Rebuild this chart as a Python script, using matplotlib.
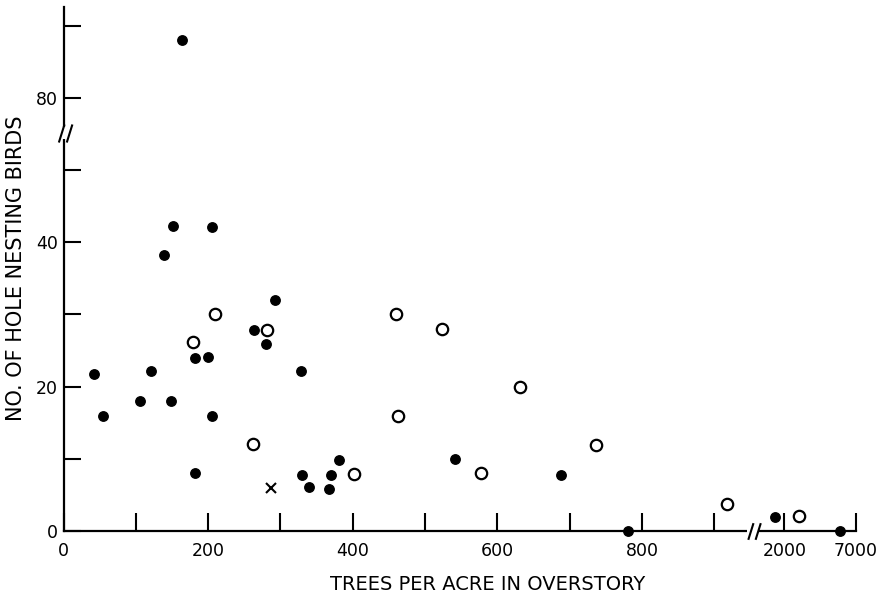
import numpy as np
import matplotlib
matplotlib.use("Agg")
import matplotlib.pyplot as plt
from matplotlib.path import Path
from matplotlib.ticker import FixedLocator, FixedFormatter

# trees per acre / number of hole nesting birds
filled_x = [164, 151, 206, 139, 292, 263, 280, 182, 200, 42, 121, 328, 106, 149,
            54, 206, 182, 330, 339, 370, 367, 381, 542, 688, 781, 1700, 5900]
filled_y = [88, 42.2, 42.1, 38.2, 32, 27.9, 25.9, 24, 24.1, 21.8, 22.1, 22.1, 18, 18,
            16, 15.9, 8.1, 7.7, 6.1, 7.7, 5.8, 9.8, 10, 7.8, 0, 2, 0]
open_x = [209, 281, 179, 262, 460, 523, 631, 463, 402, 578, 737, 918, 3000]
open_y = [30.1, 27.8, 26.2, 12.1, 30, 28, 20, 15.9, 7.9, 8.1, 11.9, 3.8, 2.1]
cross_x = [287]
cross_y = [6]

x_ticks = [0, 100, 200, 300, 400, 500, 600, 700, 800, 900, 2000, 7000]
x_ticklabels = ["0", "", "200", "", "400", "", "600", "", "800", "", "2000", "7000"]
y_ticks = [0, 10, 20, 30, 40, 50, 80, 90]
y_ticklabels = ["0", "", "20", "", "40", "", "80", ""]

# broken axes: piecewise linear scales
xk_val = [-1000, 0, 950, 2000, 7000, 12000]
xk_lin = [-1000, 0, 950, 997, 1096, 1196]
yk_val = [-100, 54, 76, 200]
yk_lin = [-100, 54, 56, 180]


def x_fwd(v):
    return np.interp(v, xk_val, xk_lin)


def x_inv(v):
    return np.interp(v, xk_lin, xk_val)


def y_fwd(v):
    return np.interp(v, yk_val, yk_lin)


def y_inv(v):
    return np.interp(v, yk_lin, yk_val)


plt.rcParams['font.family'] = ['DejaVu Sans']

fig = plt.figure(figsize=(8.9, 5.98), dpi=100)
ax = fig.add_axes([63.5 / 890, 1 - 531 / 598, (856 - 63.5) / 890, (531 - 7) / 598])
ax.set_xscale('function', functions=(x_fwd, x_inv))
ax.set_yscale('function', functions=(y_fwd, y_inv))
ax.set_xlim(0, 7000)
ax.set_ylim(0, 92.6)

ax.plot(filled_x, filled_y, 'o', color='black', markersize=6.8, clip_on=False, zorder=4)
ax.plot(open_x, open_y, 'o', markerfacecolor='white', markeredgecolor='black',
        markersize=8.2, markeredgewidth=1.6, clip_on=False, zorder=4)
ax.plot(cross_x, cross_y, 'x', color='black', markersize=7.5, markeredgewidth=1.5,
        clip_on=False, zorder=4)

for s in ['top', 'right']:
    ax.spines[s].set_visible(False)
for s in ['left', 'bottom']:
    ax.spines[s].set_linewidth(1.6)

ax.xaxis.set_major_locator(FixedLocator(x_ticks))
ax.xaxis.set_major_formatter(FixedFormatter(x_ticklabels))
ax.yaxis.set_major_locator(FixedLocator(y_ticks))
ax.yaxis.set_major_formatter(FixedFormatter(y_ticklabels))
ax.xaxis.set_minor_locator(FixedLocator([]))
ax.yaxis.set_minor_locator(FixedLocator([]))
ax.tick_params(axis='x', direction='in', length=13, width=1.5, pad=8, labelsize=12.5)
ax.tick_params(axis='y', direction='in', length=12.5, width=1.5, pad=4, labelsize=12.5)

# break marks "//"
slash = Path([(-1.0, -1.6), (0.0, 1.6), (0.4, -1.6), (1.4, 1.6)],
             [Path.MOVETO, Path.LINETO, Path.MOVETO, Path.LINETO])
ax.plot([0], [66], marker='|', markersize=9, color='white', markeredgewidth=3,
        clip_on=False, zorder=5)
ax.plot([0], [66], marker=slash, markersize=13, color='black', fillstyle='none',
        markeredgewidth=1.5, clip_on=False, zorder=6)
ax.plot([1030], [0], marker='_', markersize=8, color='white', markeredgewidth=3,
        clip_on=False, zorder=5)
ax.plot([1030], [0], marker=slash, markersize=12, color='black', fillstyle='none',
        markeredgewidth=1.5, clip_on=False, zorder=6)

fig.text(488 / 890, 1 - 585 / 598, "TREES PER ACRE IN OVERSTORY", ha='center', va='center',
         fontsize=14)
fig.text(16 / 890, 1 - 268 / 598, "NO. OF HOLE NESTING BIRDS", ha='center', va='center',
         rotation=90, fontsize=15)

fig.savefig("out.png", dpi=100)
